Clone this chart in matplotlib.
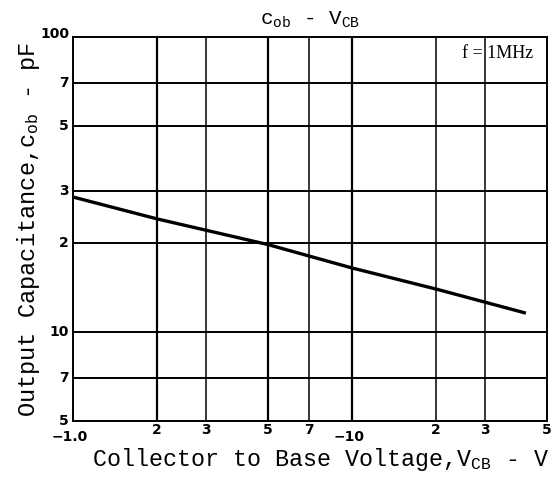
import matplotlib
matplotlib.use("Agg")
import matplotlib.pyplot as plt
import matplotlib.transforms as mtransforms
import numpy as np

# Data
vcb = [1.0, 2.0, 5.0, 10.0, 20.0, 42.0]
cob = [28.7, 24.2, 19.8, 16.5, 14.0, 11.6]

x_ticks = [1, 2, 3, 5, 7, 10, 20, 30, 50]
x_ticklabels = ["\u22121.0", "2", "3", "5", "7", "\u221210", "2", "3", "5"]
y_ticks = [5, 7, 10, 20, 30, 50, 70, 100]
y_ticklabels = ["5", "7", "10", "2", "3", "5", "7", "100"]

plt.rcParams['mathtext.fontset'] = 'custom'
plt.rcParams['mathtext.rm'] = 'Liberation Mono'
plt.rcParams['mathtext.it'] = 'Liberation Mono'

fig = plt.figure(figsize=(5.58, 4.78), dpi=100)
ax = fig.add_axes([73/558, 1-421/478, (547-73)/558, (421-37)/478])
ax.set_xscale('log')
ax.set_yscale('log')
ax.set_xlim(1, 50)
ax.set_ylim(5, 100)

# grid lines
vlw = {2: 1.6, 3: 1.1, 5: 1.6, 7: 1.1, 10: 1.6, 20: 1.1, 30: 1.1}
for xv, lw in vlw.items():
    ax.axvline(xv, color='black', lw=lw, zorder=1)
for yv in [7, 10, 20, 30, 50, 70]:
    ax.axhline(yv, color='black', lw=1.4, zorder=1)

ax.plot(vcb, cob, color='black', lw=2.4, solid_capstyle='butt', zorder=3)

for s in ax.spines.values():
    s.set_linewidth(1.4)
ax.set_xticks([])
ax.set_yticks([])
ax.minorticks_off()
ax.tick_params(which='both', length=0, labelbottom=False, labelleft=False)

tick_font = dict(family='DejaVu Sans', fontsize=10, fontweight='bold')

# x tick labels
xtr = ax.get_xaxis_transform()
for xv, lab in zip(x_ticks, x_ticklabels):
    if lab.startswith("\u2212"):
        off = mtransforms.offset_copy(xtr, fig=fig, x=-3, y=-16, units='dots')
        ax.text(xv, 0, lab, transform=off, ha='center', va='center', **tick_font)
    else:
        off = mtransforms.offset_copy(xtr, fig=fig, x=0, y=-9, units='dots')
        ax.text(xv, 0, lab, transform=off, ha='center', va='center', **tick_font)

# y tick labels
ytr = ax.get_yaxis_transform()
for yv, lab in zip(y_ticks, y_ticklabels):
    dy = 3 if yv == 100 else 0
    off = mtransforms.offset_copy(ytr, fig=fig, x=-4, y=dy, units='dots')
    ax.text(0, yv, lab, transform=off, ha='right', va='center', **tick_font)

ax.set_title(r"c$_{\rm ob}$ - V$_{\rm CB}$", family='Liberation Mono', fontsize=15, pad=9)
ax.set_xlabel(r"Collector to Base Voltage,V$_{\rm CB}$ - V", family='Liberation Mono',
              fontsize=16.8)
ax.xaxis.set_label_coords(0.522, -0.064)
ax.set_ylabel(r"Output Capacitance,c$_{\rm ob}$ - pF", family='Liberation Mono',
              fontsize=17, labelpad=22)

ax.text(0.970, 0.958, "f = 1MHz", transform=ax.transAxes, ha='right', va='center',
        family='Liberation Serif', fontsize=13)

fig.savefig("out.png", dpi=100)
